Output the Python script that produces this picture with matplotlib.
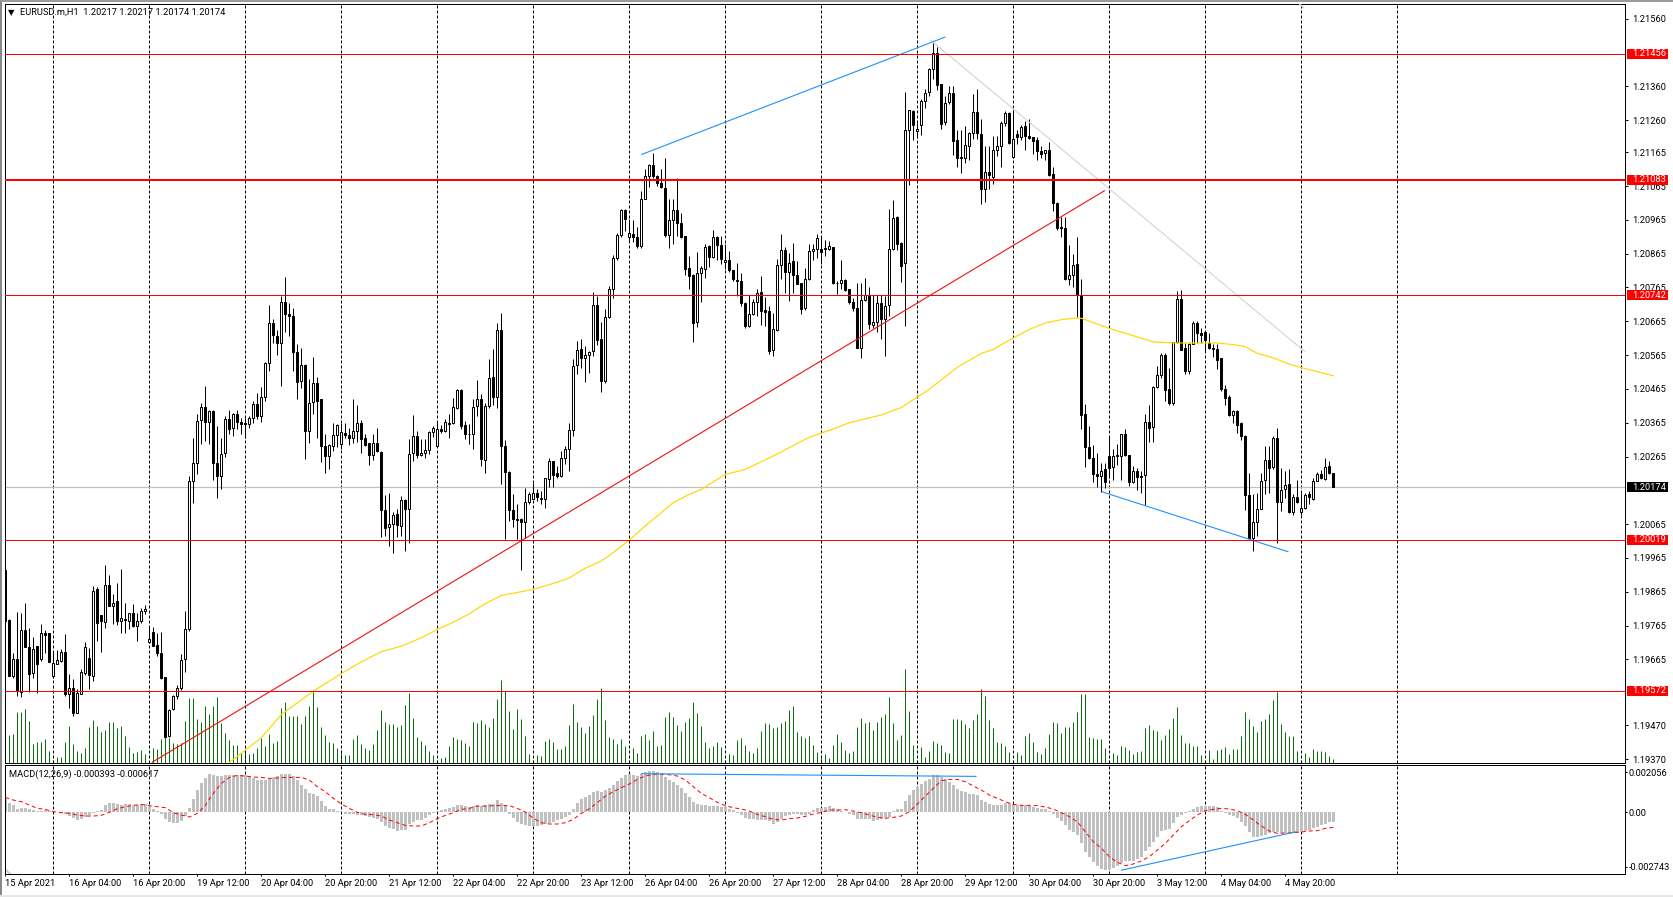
#!/usr/bin/env python3
"""EURUSD.m H1 terminal chart: candles, tick volume, MA, MACD, drawn levels."""

import matplotlib

matplotlib.use("Agg")
import matplotlib.pyplot as plt
import numpy as np
from matplotlib.patches import Rectangle
from matplotlib.transforms import blended_transform_factory

W, H = 1673, 897

# prices in 1e-5 units, one entry per hourly bar
OPEN = [
    119929, 119783, 119616, 119667, 119568, 119751, 119703, 119624, 119704, 119665,
    119744, 119742, 119616, 119651, 119659, 119687, 119564, 119581, 119507, 119563,
    119626, 119670, 119616, 119872, 119795, 119775, 119884, 119823, 119838, 119778,
    119785, 119778, 119801, 119764, 119778, 119808, 119716, 119747, 119709, 119685,
    119614, 119438, 119517, 119557, 119581, 119665, 119756, 120192, 120247, 120373,
    120412, 120367, 120399, 120245, 120207, 120276, 120377, 120350, 120390, 120367,
    120365, 120361, 120380, 120421, 120385, 120442, 120542, 120659, 120623, 120602,
    120722, 120687, 120682, 120575, 120488, 120537, 120340, 120426, 120483, 120436,
    120296, 120266, 120296, 120329, 120302, 120335, 120330, 120321, 120340, 120365,
    120321, 120304, 120269, 120306, 120279, 120107, 120057, 120066, 120096, 120060,
    120135, 120111, 120276, 120327, 120270, 120276, 120285, 120339, 120296, 120347,
    120341, 120365, 120363, 120410, 120463, 120359, 120333, 120333, 120414, 120436,
    120256, 120414, 120501, 120442, 120639, 120296, 120219, 120106, 120081, 120079,
    120072, 120131, 120140, 120158, 120143, 120140, 120200, 120251, 120215, 120207,
    120262, 120288, 120344, 120536, 120584, 120556, 120566, 120577, 120712, 120612,
    120489, 120679, 120762, 120851, 120921, 120993, 120915, 120924, 120915, 120888,
    121028, 121095, 121127, 121095, 121075, 121060, 120919, 120965, 120993, 120957,
    120916, 120824, 120801, 120663, 120809, 120821, 120888, 120856, 120913, 120890,
    120839, 120847, 120817, 120788, 120784, 120720, 120651, 120688, 120723, 120753,
    120697, 120696, 120580, 120639, 120833, 120877, 120811, 120843, 120801, 120777,
    120703, 120791, 120873, 120880, 120880, 120879, 120878, 120886, 120779, 120778,
    120788, 120760, 120723, 120703, 120587, 120728, 120740, 120654, 120663, 120720,
    120671, 120712, 120878, 120974, 120897, 120838, 121230, 121288, 121227, 121245,
    121316, 121343, 121412, 121459, 121367, 121254, 121313, 121341, 121200, 121152,
    121148, 121183, 121222, 121284, 121220, 121055, 121107, 121091, 121171, 121183,
    121252, 121281, 121150, 121219, 121211, 121242, 121214, 121209, 121200, 121170,
    121162, 121173, 121101, 121015, 120944, 120941, 120791, 120801, 120835, 120744,
    120392, 120293, 120261, 120214, 120207, 120227, 120268, 120234, 120266, 120266,
    120332, 120270, 120191, 120223, 120208, 120210, 120368, 120352, 120472, 120506,
    120564, 120466, 120422, 120604, 120730, 120585, 120518, 120599, 120661, 120629,
    120634, 120602, 120587, 120584, 120555, 120466, 120440, 120389, 120401, 120363,
    120326, 120152, 120025, 120072, 120109, 120195, 120256, 120235, 120321, 120130,
    120170, 120185, 120102, 120146, 120102, 120113, 120153, 120138, 120193, 120212,
    120200, 120236, 120217,
]
HIGH = [
    119935, 119785, 119685, 119805, 119801, 119833, 119759, 119732, 119706, 119769,
    119752, 119744, 119690, 119693, 119697, 119741, 119623, 119606, 119576, 119637,
    119717, 119700, 119882, 119879, 119795, 119943, 119916, 119857, 119892, 119933,
    119833, 119803, 119828, 119803, 119818, 119826, 119761, 119762, 119744, 119746,
    119614, 119517, 119559, 119588, 119680, 119808, 120207, 120321, 120390, 120424,
    120475, 120404, 120404, 120355, 120319, 120385, 120404, 120395, 120404, 120380,
    120380, 120385, 120429, 120452, 120472, 120544, 120712, 120671, 120639, 120740,
    120796, 120718, 120705, 120597, 120587, 120538, 120495, 120560, 120501, 120436,
    120331, 120301, 120365, 120361, 120365, 120363, 120350, 120434, 120416, 120373,
    120331, 120306, 120333, 120350, 120281, 120150, 120158, 120102, 120109, 120148,
    120138, 120316, 120387, 120341, 120318, 120316, 120341, 120355, 120370, 120357,
    120375, 120390, 120439, 120464, 120464, 120370, 120360, 120436, 120491, 120451,
    120422, 120553, 120584, 120659, 120689, 120313, 120221, 120153, 120124, 120084,
    120171, 120160, 120188, 120168, 120163, 120202, 120260, 120253, 120237, 120281,
    120296, 120365, 120554, 120607, 120612, 120592, 120577, 120753, 120740, 120663,
    120701, 120768, 120861, 120927, 120996, 120996, 120967, 120965, 120945, 121049,
    121115, 121131, 121162, 121097, 121115, 121149, 121028, 121026, 121090, 120986,
    120916, 120858, 120804, 120871, 120829, 120893, 120890, 120934, 120917, 120917,
    120893, 120873, 120817, 120836, 120807, 120722, 120743, 120730, 120762, 120799,
    120737, 120710, 120689, 120848, 120922, 120886, 120866, 120898, 120844, 120779,
    120824, 120893, 120893, 120924, 120916, 120906, 120903, 120886, 120784, 120846,
    120789, 120762, 120735, 120779, 120779, 120792, 120765, 120743, 120742, 120742,
    120740, 120996, 121023, 120976, 120899, 121343, 121291, 121291, 121252, 121323,
    121351, 121415, 121487, 121477, 121367, 121331, 121362, 121362, 121232, 121232,
    121242, 121224, 121336, 121352, 121262, 121183, 121183, 121212, 121214, 121257,
    121288, 121283, 121291, 121232, 121247, 121257, 121262, 121211, 121211, 121183,
    121173, 121195, 121122, 121017, 120974, 120974, 120892, 120865, 120915, 120790,
    120421, 120355, 120299, 120276, 120245, 120247, 120326, 120286, 120301, 120333,
    120347, 120271, 120237, 120232, 120222, 120392, 120416, 120473, 120533, 120570,
    120572, 120528, 120604, 120754, 120759, 120602, 120600, 120667, 120666, 120646,
    120634, 120631, 120597, 120597, 120557, 120478, 120446, 120404, 120402, 120367,
    120328, 120215, 120153, 120158, 120215, 120296, 120296, 120326, 120350, 120232,
    120222, 120227, 120153, 120197, 120158, 120158, 120163, 120201, 120219, 120225,
    120261, 120251, 120217,
]
LOW = [
    119770, 119616, 119611, 119557, 119554, 119703, 119568, 119611, 119566, 119660,
    119685, 119657, 119611, 119650, 119657, 119557, 119522, 119497, 119507, 119562,
    119618, 119578, 119601, 119719, 119687, 119759, 119823, 119769, 119766, 119744,
    119744, 119754, 119762, 119719, 119773, 119798, 119714, 119704, 119675, 119606,
    119436, 119436, 119515, 119547, 119574, 119628, 119750, 120128, 120212, 120301,
    120311, 120301, 120197, 120143, 120168, 120263, 120331, 120326, 120345, 120331,
    120319, 120350, 120363, 120375, 120367, 120429, 120518, 120600, 120564, 120475,
    120633, 120621, 120518, 120434, 120469, 120257, 120304, 120390, 120321, 120249,
    120215, 120227, 120281, 120293, 120288, 120321, 120299, 120306, 120308, 120276,
    120296, 120240, 120255, 120279, 120027, 120030, 120000, 119980, 120027, 120030,
    119986, 120008, 120252, 120262, 120267, 120262, 120272, 120323, 120296, 120336,
    120339, 120319, 120360, 120405, 120345, 120316, 120301, 120286, 120385, 120237,
    120217, 120410, 120416, 120410, 120183, 120020, 120074, 120057, 120020, 119929,
    120023, 120124, 120138, 120133, 120124, 120114, 120175, 120176, 120202, 120205,
    120242, 120222, 120326, 120508, 120528, 120485, 120511, 120562, 120594, 120456,
    120482, 120676, 120735, 120846, 120913, 120932, 120903, 120900, 120883, 120883,
    121028, 121063, 121090, 121065, 121060, 120915, 120883, 120893, 120917, 120910,
    120802, 120760, 120604, 120648, 120722, 120794, 120826, 120853, 120846, 120834,
    120819, 120811, 120784, 120740, 120710, 120644, 120649, 120683, 120681, 120654,
    120651, 120567, 120563, 120636, 120789, 120750, 120725, 120750, 120775, 120688,
    120699, 120787, 120846, 120853, 120835, 120858, 120876, 120775, 120745, 120760,
    120755, 120715, 120696, 120585, 120556, 120725, 120641, 120646, 120632, 120612,
    120563, 120681, 120876, 120877, 120781, 120650, 121067, 121201, 121208, 121217,
    121295, 121331, 121382, 121350, 121234, 121247, 121309, 121158, 121121, 121104,
    121132, 121143, 121205, 121205, 121013, 121018, 121055, 121072, 121155, 121121,
    121242, 121188, 121148, 121188, 121201, 121171, 121203, 121161, 121143, 121148,
    121143, 121096, 120991, 120936, 120914, 120788, 120771, 120767, 120679, 120347,
    120234, 120259, 120190, 120176, 120161, 120173, 120202, 120197, 120239, 120197,
    120268, 120178, 120188, 120166, 120158, 120122, 120308, 120308, 120469, 120498,
    120429, 120416, 120416, 120602, 120580, 120508, 120508, 120597, 120600, 120600,
    120577, 120584, 120560, 120525, 120459, 120416, 120385, 120363, 120335, 120313,
    120107, 120025, 119985, 120030, 120109, 120153, 120158, 120227, 120010, 120104,
    120143, 120099, 120091, 120128, 120091, 120109, 120126, 120136, 120192, 120199,
    120197, 120214, 120174,
]
CLOSE = [
    119778, 119616, 119667, 119571, 119751, 119703, 119621, 119697, 119650, 119744,
    119736, 119657, 119653, 119663, 119687, 119562, 119581, 119505, 119566, 119629,
    119703, 119619, 119867, 119773, 119778, 119884, 119823, 119833, 119778, 119788,
    119781, 119803, 119764, 119780, 119807, 119815, 119726, 119706, 119685, 119611,
    119436, 119515, 119557, 119581, 119663, 119756, 120192, 120247, 120371, 120412,
    120367, 120399, 120247, 120207, 120273, 120377, 120347, 120390, 120367, 120361,
    120361, 120380, 120421, 120385, 120442, 120542, 120661, 120624, 120600, 120722,
    120687, 120681, 120574, 120485, 120537, 120340, 120424, 120483, 120429, 120296,
    120266, 120298, 120328, 120357, 120337, 120328, 120320, 120340, 120365, 120318,
    120299, 120269, 120306, 120281, 120107, 120054, 120066, 120093, 120062, 120135,
    120111, 120273, 120327, 120269, 120276, 120285, 120339, 120350, 120347, 120340,
    120368, 120362, 120413, 120463, 120355, 120333, 120332, 120413, 120436, 120259,
    120415, 120498, 120441, 120639, 120296, 120219, 120107, 120080, 120077, 120071,
    120131, 120155, 120158, 120145, 120140, 120201, 120253, 120210, 120207, 120262,
    120288, 120344, 120534, 120581, 120555, 120566, 120575, 120712, 120610, 120489,
    120679, 120762, 120853, 120921, 120993, 120969, 120927, 120915, 120888, 121028,
    121095, 121127, 121095, 121075, 121062, 120919, 120965, 120993, 120955, 120913,
    120819, 120799, 120659, 120809, 120824, 120886, 120856, 120913, 120891, 120848,
    120847, 120817, 120789, 120784, 120718, 120651, 120688, 120723, 120750, 120694,
    120693, 120577, 120641, 120833, 120876, 120811, 120836, 120802, 120775, 120701,
    120791, 120874, 120880, 120910, 120870, 120881, 120889, 120777, 120778, 120788,
    120757, 120722, 120703, 120587, 120729, 120743, 120656, 120663, 120720, 120671,
    120710, 120880, 120972, 120895, 120828, 121232, 121291, 121247, 121234, 121318,
    121341, 121412, 121459, 121365, 121250, 121311, 121341, 121198, 121148, 121147,
    121185, 121222, 121284, 121222, 121055, 121107, 121097, 121173, 121184, 121252,
    121281, 121191, 121203, 121209, 121240, 121212, 121207, 121198, 121168, 121161,
    121172, 121099, 121014, 120941, 120942, 120791, 120802, 120832, 120744, 120387,
    120293, 120260, 120213, 120207, 120223, 120189, 120230, 120266, 120269, 120332,
    120269, 120189, 120222, 120204, 120204, 120368, 120350, 120472, 120507, 120566,
    120462, 120422, 120604, 120730, 120580, 120517, 120599, 120661, 120631, 120625,
    120609, 120585, 120584, 120552, 120464, 120438, 120387, 120401, 120358, 120326,
    120151, 120025, 120072, 120109, 120193, 120256, 120231, 120321, 120130, 120166,
    120181, 120102, 120145, 120131, 120114, 120152, 120146, 120193, 120212, 120201,
    120235, 120217, 120174,
]
VOLUME = [
    105, 85, 88, 153, 153, 163, 127, 58, 63, 64,
    73, 38, 10, 18, 18, 63, 112, 58, 38, 30,
    46, 108, 130, 112, 95, 100, 124, 124, 107, 112,
    82, 48, 30, 34, 40, 28, 8, 46, 43, 73,
    115, 75, 60, 58, 60, 127, 197, 197, 133, 125,
    173, 148, 173, 199, 121, 90, 70, 55, 55, 30,
    40, 28, 30, 45, 75, 52, 88, 62, 68, 167,
    183, 143, 143, 143, 118, 143, 173, 215, 169, 108,
    85, 65, 62, 46, 38, 25, 25, 73, 85, 58,
    45, 40, 58, 100, 160, 124, 118, 118, 110, 115,
    175, 212, 136, 79, 67, 55, 37, 25, 10, 16,
    19, 52, 79, 73, 70, 61, 52, 124, 121, 130,
    118, 109, 136, 193, 250, 217, 157, 103, 163, 133,
    82, 28, 10, 25, 22, 67, 73, 64, 43, 43,
    52, 115, 178, 124, 109, 91, 112, 145, 193, 226,
    130, 79, 73, 58, 73, 52, 10, 46, 31, 82,
    88, 70, 97, 52, 55, 139, 154, 139, 115, 97,
    124, 136, 184, 151, 112, 64, 46, 52, 64, 49,
    10, 28, 25, 70, 76, 55, 37, 31, 46, 97,
    121, 118, 106, 109, 121, 127, 160, 172, 94, 82,
    76, 82, 55, 34, 16, 28, 16, 55, 88, 64,
    40, 31, 37, 109, 136, 121, 124, 100, 124, 139,
    148, 199, 121, 70, 85, 283, 157, 55, 10, 49,
    19, 37, 67, 61, 55, 34, 31, 133, 133, 130,
    118, 106, 130, 148, 223, 202, 130, 106, 64, 61,
    52, 34, 10, 34, 25, 82, 91, 64, 34, 28,
    46, 88, 124, 121, 91, 109, 109, 124, 154, 208,
    208, 79, 76, 73, 73, 46, 10, 31, 25, 52,
    49, 40, 28, 34, 37, 106, 115, 100, 97, 70,
    85, 103, 136, 169, 85, 61, 61, 52, 52, 25,
    10, 40, 13, 40, 43, 49, 28, 43, 43, 82,
    154, 133, 112, 94, 127, 133, 148, 190, 214, 118,
    94, 82, 82, 37, 10, 31, 19, 43, 37, 37, 34, 22, 13,
]
# MACD values in units of MACD_UNIT
MACD_UNIT = 1.467e-5
MACD_HIST = [
    38, 28, 21, 10, 13, 11, 8, 5, 3, 2,
    5, 3, 3, -1, -3, -5, -12, -18, -23, -20,
    -16, -10, -4, 2, 6, 20, 26, 28, 24, 22,
    24, 24, 22, 22, 24, 24, 15, 10, 4, -6,
    -20, -30, -33, -32, -26, -12, 12, 38, 65, 87,
    103, 113, 110, 108, 108, 110, 112, 112, 112, 112,
    110, 106, 102, 97, 96, 95, 98, 106, 107, 113,
    113, 113, 107, 95, 80, 70, 57, 55, 48, 32,
    18, 10, 8, 4, -1, -7, -7, -5, -8, -10,
    -12, -15, -18, -20, -30, -43, -47, -52, -56, -54,
    -54, -35, -30, -24, -24, -18, -8, -3, 3, 6,
    8, 12, 16, 21, 21, 18, 16, 18, 21, 18,
    20, 24, 24, 36, 26, 20, -5, -17, -29, -37,
    -40, -42, -42, -42, -40, -36, -32, -29, -25, -20,
    -15, -8, 10, 28, 38, 44, 52, 60, 63, 60,
    66, 72, 82, 93, 102, 111, 113, 110, 108, 115,
    120, 123, 123, 120, 113, 105, 96, 90, 82, 72,
    58, 45, 30, 24, 22, 20, 18, 18, 18, 16,
    14, 10, 6, -2, -10, -17, -20, -22, -24, -25,
    -25, -28, -35, -30, -20, -12, -8, -6, -6, -8,
    -8, -7, 6, 12, 13, 16, 18, 12, 8, 4,
    0, -6, -10, -20, -20, -20, -22, -26, -24, -22,
    -18, -14, 3, 8, 10, 34, 52, 66, 75, 84,
    92, 100, 110, 110, 105, 100, 90, 80, 70, 62,
    60, 54, 54, 52, 36, 30, 24, 22, 22, 22,
    26, 28, 24, 22, 20, 20, 18, 14, 12, 10,
    10, 4, -5, -18, -26, -40, -55, -60, -68, -92,
    -120, -134, -150, -162, -170, -174, -172, -168, -162, -153,
    -148, -148, -146, -142, -135, -118, -105, -90, -75, -58,
    -55, -50, -33, -15, -8, -4, 2, 8, 16, 18,
    18, 18, 18, 16, 4, -2, -8, -12, -18, -30,
    -43, -60, -76, -74, -72, -68, -63, -60, -60, -64,
    -63, -60, -62, -60, -60, -56, -54, -48, -44, -40, -36, -30, -30,
]
# signal line, read every second bar
MACD_SIGNAL = [
    44, 36, 31, 21, 11, 8, 1, -2, -4, -9, -12, -12, -10, -1, 10, 16, 20, 23, 19, 16,
    13, -2, -9, -15, -4, 20, 56, 86, 104, 110, 108, 105, 104, 101, 102, 104, 104, 104, 96, 76,
    61, 41, 24, 11, -1, -7, -8, -12, -24, -32, -40, -42, -42, -32, -20, -10, -2, 8, 11, 18,
    18, 19, 20, 19, 11, 0, -19, -32, -36, -36, -32, -22, -4, 10, 28, 48, 61, 73, 84, 98,
    108, 113, 114, 112, 108, 96, 76, 56, 43, 29, 19, 13, 9, 3, -7, -14, -22, -24, -20, -18,
    -13, -6, -1, 6, 6, 7, 3, -2, -9, -16, -19, -16, -12, 1, 24, 48, 71, 94, 98, 98,
    91, 78, 66, 51, 41, 31, 23, 20, 20, 19, 15, 9, -2, -14, -29, -59, -89, -109, -134, -151,
    -161, -156, -147, -134, -114, -94, -69, -44, -26, -9, 4, 8, 11, 9, 4, -7, -24, -42, -57, -64,
    -63, -62, -60, -57, -56, -49, -46,
]
MA_BARS = [56, 60, 64, 69, 77, 84, 89, 94, 99, 104, 108, 112, 116, 120, 124, 128, 132, 137, 141,
           145, 149, 152, 156, 160, 164, 167, 171, 174, 180, 185, 192, 201, 208, 211, 219, 224,
           231, 238, 244, 247, 252, 256, 260, 264, 268, 269, 276, 281, 287, 292, 303, 307, 310,
           313, 317, 321, 325, 332]
MA_PRICES = [119360, 119397, 119433, 119502, 119571, 119623, 119658, 119688, 119704, 119729,
             119754, 119775, 119800, 119830, 119854, 119863, 119872, 119890, 119906, 119935,
             119956, 119981, 120018, 120060, 120099, 120129, 120153, 120168, 120212, 120227,
             120267, 120322, 120351, 120365, 120388, 120410, 120464, 120529, 120570, 120582,
             120616, 120641, 120660, 120670, 120675, 120674, 120644, 120626, 120604, 120601,
             120601, 120596, 120590, 120570, 120557, 120538, 120525, 120504]

LEVELS = [1.21456, 1.21083, 1.20742, 1.20019, 1.19572]
LEVEL_WIDTHS = [1.0, 2.0, 1.0, 1.0, 1.0]
BID = 1.20174

PRICE_TICKS = [1.21560, 1.21360, 1.21260, 1.21165, 1.21065, 1.20965, 1.20865, 1.20765, 1.20665,
               1.20565, 1.20465, 1.20365, 1.20265, 1.20065, 1.19965, 1.19865, 1.19765, 1.19665,
               1.19470, 1.19370]
TIME_LABELS = ["15 Apr 2021", "16 Apr 04:00", "16 Apr 20:00", "19 Apr 12:00", "20 Apr 04:00",
               "20 Apr 20:00", "21 Apr 12:00", "22 Apr 04:00", "22 Apr 20:00", "23 Apr 12:00",
               "26 Apr 04:00", "26 Apr 20:00", "27 Apr 12:00", "28 Apr 04:00", "28 Apr 20:00",
               "29 Apr 12:00", "30 Apr 04:00", "30 Apr 20:00", "3 May 12:00", "4 May 04:00",
               "4 May 20:00"]

# drawn objects: ((bar, price), (bar, price))
TREND_RED = ((36.6, 1.19360), (274.9, 1.21052))
TREND_BLUE_UP = ((159, 1.21158), (235, 1.21506))
TREND_BLUE_DOWN = ((274.1, 1.20161), (320.8, 1.19983))
TREND_GRAY = ((231.2, 1.21498), (324.9, 1.20575))
# MACD window, value in MACD_UNIT
MACD_BLUE_TOP = ((158.9, 115), (242.8, 107))
MACD_BLUE_LOW = ((278.9, -175), (322.8, -59))

GRID_STEP = 24
TIME_STEP = 16
BLUE = "#1e90ff"
ONE_PX = 0.72
LABEL_SIZE = 6.7


def px_axes(fig, left, top, right, bottom):
    return fig.add_axes([left / W, 1 - bottom / H, (right - left) / W, (bottom - top) / H])


def draw_line(ax, pts, scale=1.0, **kw):
    (x0, y0), (x1, y1) = pts
    ax.plot([x0, x1], [y0 * scale, y1 * scale], solid_capstyle="butt", **kw)


def main():
    plt.rcParams["font.family"] = ["Roboto", "DejaVu Sans"]
    plt.rcParams["font.size"] = LABEL_SIZE
    plt.rcParams["axes.linewidth"] = ONE_PX

    fig = plt.figure(figsize=(W / 100, H / 100), dpi=100, facecolor="white")

    # window chrome
    fig.add_artist(Rectangle((0, 0), 2 / W, 1, transform=fig.transFigure, color="#8a8a8a", lw=0))
    fig.add_artist(Rectangle((0, 1 - 2 / H), 1, 2 / H, transform=fig.transFigure, color="#9a9a9a", lw=0))
    fig.add_artist(Rectangle((0, 0), 1, 2 / H, transform=fig.transFigure, color="#e6e6e6", lw=0))

    xlim = ((4.5 - 5.33) / 4, (1625.3 - 5.33) / 4)
    bars = np.arange(len(OPEN))
    o, h, l, c = [np.array(v) / 1e5 for v in (OPEN, HIGH, LOW, CLOSE)]

    # volume sits behind the price axes, 1 unit = 1/3 px
    ax_vol = px_axes(fig, 4.5, 4.5, 1625.3, 763.2)
    ax_vol.set_xlim(xlim)
    ax_vol.set_ylim(0, 758.7 * 3)
    ax_vol.vlines(bars, 0, VOLUME, color="#0f6b0f", lw=ONE_PX)
    ax_vol.set_xticks([])
    ax_vol.set_yticks([])

    ax = px_axes(fig, 4.5, 4.5, 1625.3, 763.2)
    ax.set_zorder(ax_vol.get_zorder() + 1)
    ax.patch.set_visible(False)
    ax.set_xlim(xlim)
    ax.set_ylim(1.19358, 1.21602)

    ax_macd = px_axes(fig, 4.5, 765.4, 1625.3, 874.3)
    ax_macd.set_xlim(xlim)
    ax_macd.set_ylim(-187 * MACD_UNIT, 140 * MACD_UNIT)

    grid = np.arange(12, 350, GRID_STEP)
    for a in (ax, ax_macd):
        for g in grid:
            a.axvline(g, color="black", lw=ONE_PX, ls=(0, (3, 2)), zorder=1)

    ax.axhline(BID, color="#c0c0c0", lw=ONE_PX * 1.2, zorder=1.5)

    # candles
    ax.vlines(bars, l, h, color="black", lw=ONE_PX, zorder=3)
    bull = c >= o
    ax.bar(bars[bull], (c - o)[bull], bottom=o[bull], width=0.5, facecolor="white",
           edgecolor="black", linewidth=ONE_PX, zorder=3.2)
    ax.bar(bars[~bull], (o - c)[~bull], bottom=c[~bull], width=0.5, facecolor="black",
           edgecolor="black", linewidth=ONE_PX, zorder=3.2)

    ax.plot(MA_BARS, np.array(MA_PRICES) / 1e5, color="#ffd700", lw=0.85, zorder=4)
    draw_line(ax, TREND_GRAY, color="#cfcfcf", lw=ONE_PX, zorder=4)
    draw_line(ax, TREND_RED, color="#f01010", lw=0.8, zorder=4)
    draw_line(ax, TREND_BLUE_UP, color=BLUE, lw=0.8, zorder=4)
    draw_line(ax, TREND_BLUE_DOWN, color=BLUE, lw=0.8, zorder=4)
    ax.plot([323.7, 324.5], [1.21602, 1.21593], color="#cfcfcf", lw=1.2, zorder=4)

    for level, width in zip(LEVELS, LEVEL_WIDTHS):
        ax.axhline(level, color="#ff0000", lw=ONE_PX * width, zorder=5)

    ax.set_xticks([])
    ax.yaxis.tick_right()
    ax.set_yticks(PRICE_TICKS, [f"{p:.5f}" for p in PRICE_TICKS])
    ax.tick_params(axis="y", length=2.2, width=ONE_PX, pad=2.8, labelsize=LABEL_SIZE)

    # price tags on the right scale
    trans = blended_transform_factory(ax.transAxes, ax.transData)
    tag_x = (1627 - 4.5) / (1625.3 - 4.5)
    tag_w = 40.7 / (1625.3 - 4.5)
    tag_h = 0.00030
    for price, color in [(p, "#ff0000") for p in LEVELS] + [(BID, "black")]:
        ax.add_patch(Rectangle((tag_x, price - tag_h / 2), tag_w, tag_h, transform=trans,
                               facecolor=color, lw=0, clip_on=False, zorder=6))
        ax.text(tag_x + 0.003, price, f"{price:.5f}", transform=trans, color="white",
                va="center", ha="left", fontsize=LABEL_SIZE, zorder=7)

    fig.text(8 / W, 1 - 13 / H, "▼", family="DejaVu Sans", fontsize=6, va="center")
    fig.text(20 / W, 1 - 12.5 / H, "EURUSD.m,H1  1.20217 1.20217 1.20174 1.20174",
             va="center", ha="left", fontsize=LABEL_SIZE, zorder=10)

    # MACD window
    ax_macd.bar(bars, np.array(MACD_HIST) * MACD_UNIT, width=0.75, color="#c0c0c0", lw=0, zorder=2)
    sig_x = np.arange(len(MACD_SIGNAL)) * 2
    ax_macd.plot(sig_x, np.array(MACD_SIGNAL) * MACD_UNIT, color="#ff0000", lw=ONE_PX,
                 ls=(0, (4, 3)), zorder=3)
    draw_line(ax_macd, MACD_BLUE_TOP, scale=MACD_UNIT, color=BLUE, lw=0.8, zorder=4)
    draw_line(ax_macd, MACD_BLUE_LOW, scale=MACD_UNIT, color=BLUE, lw=0.8, zorder=4)
    ax_macd.plot([-0.1, 1.2], [-171 * MACD_UNIT, -186 * MACD_UNIT], color="#c8c8c8", lw=1.4, zorder=2)

    ax_macd.yaxis.tick_right()
    ax_macd.set_yticks([120 * MACD_UNIT, 0, -165 * MACD_UNIT], ["0.002056", "0.00", "-0.002743"])
    ax_macd.tick_params(axis="y", length=1.5, width=ONE_PX, pad=1.0, labelsize=LABEL_SIZE)
    ax_macd.text(4.8 / 1620.8, 1 - 9 / 108.9, "MACD(12,26,9) -0.000393 -0.000617",
                 transform=ax_macd.transAxes, va="center", ha="left", fontsize=LABEL_SIZE, zorder=10)

    ticks = np.arange(len(TIME_LABELS)) * TIME_STEP
    ax_macd.set_xticks(ticks, TIME_LABELS, ha="left")
    ax_macd.tick_params(axis="x", length=1.6, width=ONE_PX, pad=1.8, labelsize=LABEL_SIZE)

    fig.savefig("out.png", dpi=100)


if __name__ == "__main__":
    main()
